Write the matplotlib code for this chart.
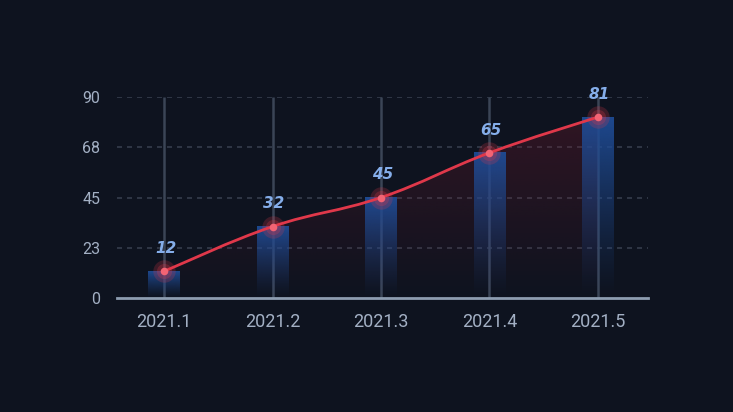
import numpy as np
import matplotlib
matplotlib.use("Agg")
import matplotlib.pyplot as plt
from matplotlib.path import Path
from matplotlib.patches import PathPatch
from matplotlib.colors import to_rgb

categories = ["2021.1", "2021.2", "2021.3", "2021.4", "2021.5"]
values = [12, 32, 45, 65, 81]
y_ticks = [0, 22.5, 45, 67.5, 90]
y_tick_labels = ["0", "23", "45", "68", "90"]

BG = "#0e131f"
fig = plt.figure(figsize=(7.33, 4.12), dpi=100, facecolor=BG)
ax = fig.add_axes([110/733, 114/412, 542/733, 201/412], facecolor=BG)
x = np.arange(len(categories))
ax.set_xlim(-0.5, len(categories) - 0.5)
ax.set_ylim(0, 90)

# grid
xl, xr = -0.435, 4.463
for yv in y_ticks[1:]:
    ax.hlines(yv, xl, xr, colors="#353d4c", linestyles=(0, (3, 3)), lw=1.2, zorder=1)

# vertical category lines
ax.vlines(x, 0, 90, colors="#3b4556", lw=1.8, zorder=1)

# gradient bars
bw = 0.29
for xi, v in zip(x, values):
    n = 256
    grad = np.zeros((n, 1, 4))
    c = to_rgb("#1f4c96")
    grad[:, 0, :3] = c
    grad[:, 0, 3] = np.linspace(0.95, 0.0, n) ** 1.2
    ax.imshow(grad, extent=(xi - bw/2, xi + bw/2, 0, v), aspect="auto",
              origin="upper", zorder=2, interpolation="bilinear")

# smooth line path (cubic bezier through points)
pts = np.column_stack([x, values]).astype(float)
sm = 0.2
verts = [tuple(pts[0])]
codes = [Path.MOVETO]
for i in range(len(pts) - 1):
    p0 = pts[i - 1] if i > 0 else pts[i]
    p1 = pts[i]
    p2 = pts[i + 1]
    p3 = pts[i + 2] if i + 2 < len(pts) else pts[i + 1]
    c1 = p1 + (p2 - p0) * sm
    c2 = p2 - (p3 - p1) * sm
    verts += [tuple(c1), tuple(c2), tuple(p2)]
    codes += [Path.CURVE4] * 3
line_path = Path(verts, codes)

# area under line
area_verts = verts + [(pts[-1, 0], 0), (pts[0, 0], 0), verts[0]]
area_codes = codes + [Path.LINETO, Path.LINETO, Path.CLOSEPOLY]
area_path = Path(area_verts, area_codes)
patch = PathPatch(area_path, facecolor="none", edgecolor="none")
ax.add_patch(patch)
grad = np.zeros((256, 1, 4))
grad[:, 0, :3] = to_rgb("#7a1a2c")
grad[:, 0, 3] = np.linspace(0.35, 0.0, 256)
im = ax.imshow(grad, extent=(pts[0, 0], pts[-1, 0], 0, 90), aspect="auto",
               origin="upper", zorder=1.5, interpolation="bilinear")
im.set_clip_path(patch)

ax.add_patch(PathPatch(line_path, facecolor="none", edgecolor="#e0384a", lw=2, zorder=4))

# markers with glow
ax.scatter(x, values, s=260, color="#e0384a", alpha=0.22, zorder=5, lw=0)
ax.scatter(x, values, s=120, color="#e0384a", alpha=0.25, zorder=5, lw=0)
ax.scatter(x, values, s=30, color="#f36474", zorder=6, lw=0)

# labels
for xi, v in zip(x, values):
    ax.annotate(str(v), (xi, v), xytext=(1, 11), textcoords="offset points",
                ha="center", va="bottom", color="#85aeea", fontsize=11,
                fontstyle="italic", fontweight="bold", zorder=7)

# axes styling
for s in ["top", "right", "left"]:
    ax.spines[s].set_visible(False)
ax.spines["bottom"].set_color("#8d9db0")
ax.spines["bottom"].set_linewidth(2)
ax.spines["bottom"].set_bounds(xl, xr)
ax.spines["bottom"].set_zorder(8)
ax.set_xticks(x)
ax.set_xticklabels(categories)
ax.set_yticks(y_ticks)
ax.set_yticklabels(y_tick_labels)
ax.tick_params(axis="x", length=0, pad=11, labelsize=13, labelcolor="#a3b0c4")
ax.tick_params(axis="y", length=0, pad=7, labelsize=11.5, labelcolor="#a3b0c4")
for lab in ax.get_xticklabels() + ax.get_yticklabels():
    lab.set_fontfamily("Roboto")
    lab.set_fontweight("normal")

fig.savefig("out.png", dpi=100, facecolor=BG)
